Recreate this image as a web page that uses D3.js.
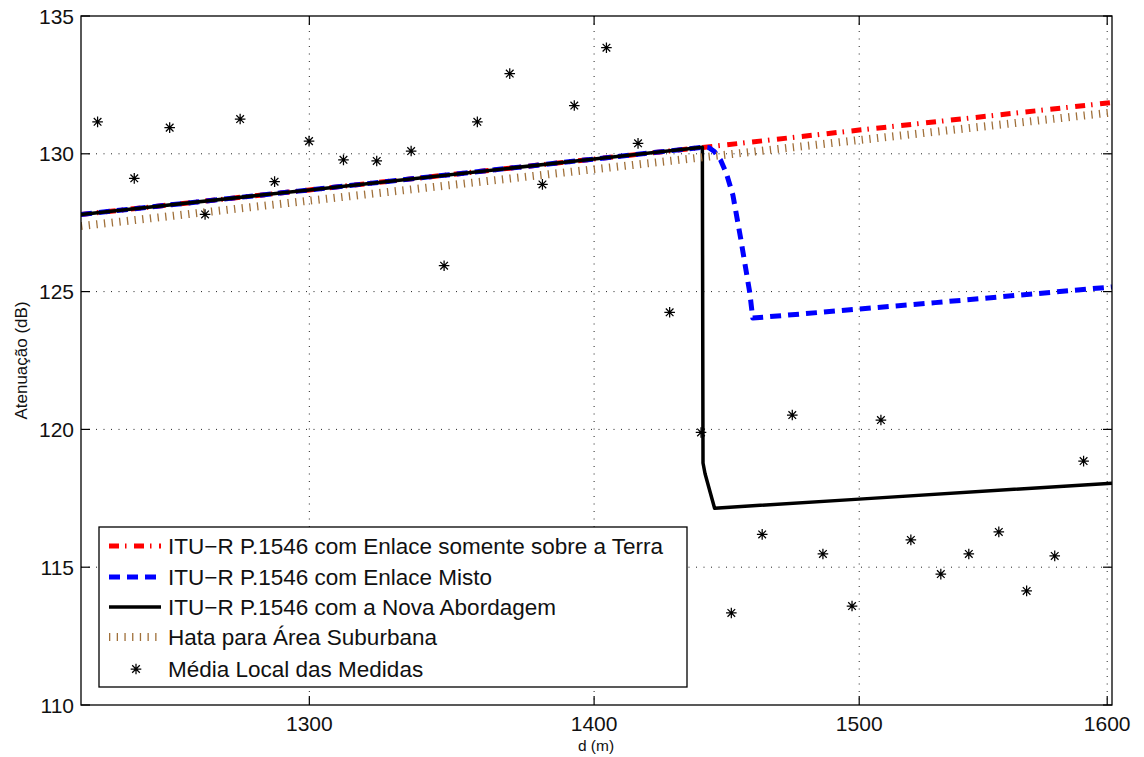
<!DOCTYPE html>
<html>
<head>
<meta charset="utf-8">
<script src="https://cdn.jsdelivr.net/npm/d3@7"></script>
<style>
  html, body { margin: 0; padding: 0; background: #fff; }
  svg { display: block; font-family: "Liberation Sans", Arial, Helvetica, sans-serif; }
</style>
</head>
<body>
<svg id="chart" width="1144" height="757"></svg>
<script>
// ---------- data ----------
const xTicks = [1300, 1400, 1500, 1600];
const yTicks = [110, 115, 120, 125, 130, 135];

const terraD = [1225, 1300, 1400, 1441, 1500, 1602];
const terraV = [127.8, 128.69, 129.81, 130.24, 130.86, 131.86];

const mistoD = [1225, 1300, 1400, 1440.3, 1442.5, 1444.5, 1446.8, 1449.0, 1451.5, 1454.4, 1457.9, 1459.0, 1530, 1602];
const mistoV = [127.8, 128.69, 129.81, 130.24, 130.22, 130.08, 129.78, 129.3, 128.5, 126.95, 124.95, 124.04, 124.6, 125.17];

const novaD = [1225, 1300, 1400, 1440, 1440.25, 1441.0, 1442.7, 1444.6, 1500, 1602];
const novaV = [127.8, 128.69, 129.81, 130.24, 118.78, 118.4, 117.8, 117.14, 117.47, 118.05];

const hataD = [1225, 1300, 1400, 1500, 1602];
const hataV = [127.38, 128.3, 129.44, 130.5, 131.5];

const medD = [1230.3, 1242.1, 1253.6, 1265.2, 1276.8, 1288.3, 1299.9, 1311.6, 1323.0, 1334.9,
              1346.4, 1358.1, 1369.6, 1381.3, 1392.8, 1404.5, 1416.1, 1427.8, 1439.5, 1450.9,
              1462.6, 1474.1, 1485.9, 1497.2, 1508.5, 1520.3, 1532.2, 1543.4, 1555.5, 1566.8,
              1578.3, 1590.2];
const medV = [131.16, 129.11, 130.95, 127.80, 131.26, 128.99, 130.46, 129.78, 129.74, 130.10,
              125.94, 131.16, 132.91, 128.89, 131.75, 133.85, 130.38, 124.25, 119.89, 113.34,
              116.19, 120.52, 115.48, 113.59, 120.34, 115.99, 114.75, 115.48, 116.28, 114.14,
              115.41, 118.85];

const legendLabels = [
  "ITU\u2212R P.1546 com Enlace somente sobre a Terra",
  "ITU\u2212R P.1546 com Enlace Misto",
  "ITU\u2212R P.1546 com a Nova Abordagem",
  "Hata para \u00C1rea Suburbana",
  "M\u00E9dia Local das Medidas"
];

// ---------- layout ----------
const L = 81, R = 1112, T = 16, B = 705;
const svg = d3.select("#chart");

const x = d3.scaleLog().domain([1225, 1602]).range([L, R]);
const y = d3.scaleLinear().domain([110, 135]).range([B, T]);

const styles = {
  terra: { stroke: "#ff0000", width: 5, dash: "10,6,1.5,7.5" },
  misto: { stroke: "#0000ff", width: 5, dash: "11,7" },
  nova:  { stroke: "#000000", width: 3.5, dash: null },
  hata:  { stroke: "#a0703a", width: 8, dash: "1.3,6.4" }
};

// grid
const grid = svg.append("g");
xTicks.forEach(t => {
  grid.append("line").attr("x1", x(t)).attr("x2", x(t)).attr("y1", T).attr("y2", B)
    .attr("stroke", "#222").attr("stroke-width", 1).attr("stroke-dasharray", "1,6.5");
});
yTicks.filter(t => t > 110 && t < 135).forEach(t => {
  grid.append("line").attr("x1", L).attr("x2", R).attr("y1", y(t)).attr("y2", y(t))
    .attr("stroke", "#222").attr("stroke-width", 1).attr("stroke-dasharray", "1,6.5");
});

// clip
svg.append("clipPath").attr("id", "clip").append("rect")
  .attr("x", L).attr("y", T).attr("width", R - L).attr("height", B - T);

const plot = svg.append("g").attr("clip-path", "url(#clip)");
const lineGen = d3.line().x(d => x(d[0])).y(d => y(d[1]));

function drawLine(ds, vs, st) {
  const pts = ds.map((d, i) => [d, vs[i]]);
  const p = plot.append("path").datum(pts).attr("d", lineGen)
    .attr("fill", "none").attr("stroke", st.stroke).attr("stroke-width", st.width)
    .attr("stroke-linejoin", "round");
  if (st.dash) p.attr("stroke-dasharray", st.dash);
}
drawLine(terraD, terraV, styles.terra);
drawLine(mistoD, mistoV, styles.misto);
drawLine(novaD, novaV, styles.nova);
drawLine(hataD, hataV, styles.hata);

function asterisk(g, cx, cy, r) {
  const d = r * 0.72;
  g.append("path")
    .attr("d", `M${cx - r},${cy}L${cx + r},${cy}M${cx},${cy - r}L${cx},${cy + r}` +
               `M${cx - d},${cy - d}L${cx + d},${cy + d}M${cx - d},${cy + d}L${cx + d},${cy - d}`)
    .attr("stroke", "#000").attr("stroke-width", 1.25).attr("fill", "none");
}
const mg = plot.append("g");
medD.forEach((d, i) => asterisk(mg, x(d), y(medV[i]), 5.3));

// axes box
svg.append("rect").attr("x", L).attr("y", T).attr("width", R - L).attr("height", B - T)
  .attr("fill", "none").attr("stroke", "#000").attr("stroke-width", 1.3);

// ticks (inward, all four sides)
const tk = 9;
const axG = svg.append("g").attr("stroke", "#000").attr("stroke-width", 1.2);
xTicks.forEach(t => {
  axG.append("line").attr("x1", x(t)).attr("x2", x(t)).attr("y1", B).attr("y2", B - tk);
  axG.append("line").attr("x1", x(t)).attr("x2", x(t)).attr("y1", T).attr("y2", T + tk);
});
yTicks.forEach(t => {
  axG.append("line").attr("x1", L).attr("x2", L + tk).attr("y1", y(t)).attr("y2", y(t));
  axG.append("line").attr("x1", R).attr("x2", R - tk).attr("y1", y(t)).attr("y2", y(t));
});

// tick labels
svg.append("g").selectAll("text").data(xTicks).join("text")
  .attr("x", d => x(d)).attr("y", 731).attr("text-anchor", "middle")
  .attr("font-size", 21).attr("fill", "#111").text(d => d);
svg.append("g").selectAll("text").data(yTicks).join("text")
  .attr("x", 74).attr("y", d => y(d)).attr("dy", "0.36em").attr("text-anchor", "end")
  .attr("font-size", 21).attr("fill", "#111").text(d => d);

// axis labels
svg.append("text").attr("x", 596).attr("y", 751).attr("text-anchor", "middle")
  .attr("font-size", 15.5).attr("fill", "#111").text("d (m)");
svg.append("text").attr("transform", `translate(27,${(T + B) / 2}) rotate(-90)`)
  .attr("text-anchor", "middle").attr("font-size", 17).attr("fill", "#111").text("Atenua\u00E7\u00E3o (dB)");

// legend
const lg = svg.append("g");
lg.append("rect").attr("x", 99).attr("y", 527).attr("width", 588).attr("height", 160)
  .attr("fill", "#fff").attr("stroke", "#000").attr("stroke-width", 1.3);
const rowY = [546, 577, 607, 637, 669];
const keys = ["terra", "misto", "nova", "hata"];
keys.forEach((k, i) => {
  const st = styles[k];
  const l = lg.append("line").attr("x1", 109).attr("x2", 161).attr("y1", rowY[i]).attr("y2", rowY[i])
    .attr("stroke", st.stroke).attr("stroke-width", st.width);
  if (st.dash) l.attr("stroke-dasharray", st.dash);
});
asterisk(lg, 136, rowY[4], 5.3);
legendLabels.forEach((t, i) => {
  lg.append("text").attr("x", 168).attr("y", rowY[i]).attr("dy", "0.36em")
    .attr("font-size", 22.5).attr("fill", "#111").text(t);
});
</script>
</body>
</html>
